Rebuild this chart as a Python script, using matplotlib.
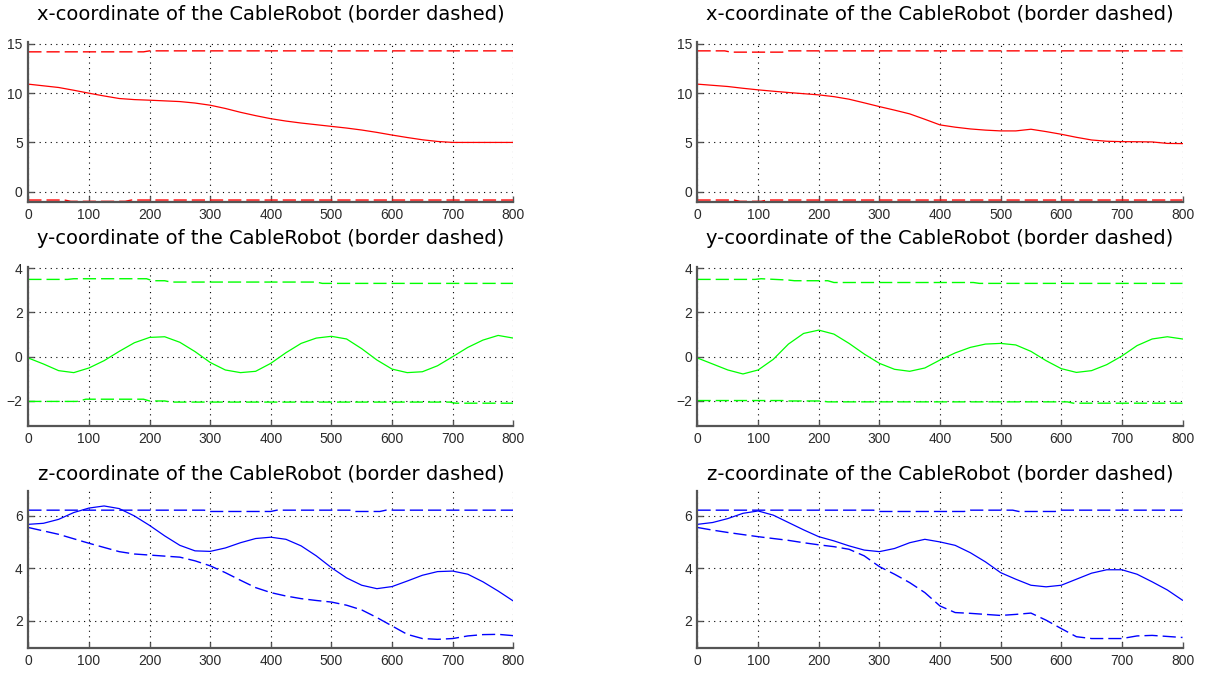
import numpy as np
import matplotlib
matplotlib.use("Agg")
import matplotlib.pyplot as plt

# sample positions for the trajectories
t = [0, 25, 50, 75, 100, 125, 150, 175, 200, 225, 250, 275, 300, 325, 350, 375, 400,
     425, 450, 475, 500, 525, 550, 575, 600, 625, 650, 675, 700, 725, 750, 775, 800]

# ---- left column ----
x_left = [10.92, 10.75, 10.58, 10.3, 10.0, 9.72, 9.46, 9.35, 9.29, 9.22, 9.15, 9.0, 8.78,
          8.45, 8.06, 7.72, 7.41, 7.17, 6.97, 6.8, 6.63, 6.46, 6.26, 6.02, 5.75, 5.5, 5.27,
          5.1, 5.0, 5.0, 5.0, 5.0, 5.0]
x_left_up_t = [0, 190, 200, 800]
x_left_up = [14.2, 14.2, 14.3, 14.3]
x_left_lo_t = [0, 60, 70, 160, 170, 800]
x_left_lo = [-0.85, -0.85, -0.98, -0.98, -0.85, -0.85]

y_left = [-0.06, -0.33, -0.63, -0.72, -0.51, -0.18, 0.24, 0.63, 0.87, 0.9, 0.65, 0.23, -0.26,
          -0.6, -0.72, -0.66, -0.3, 0.18, 0.6, 0.84, 0.92, 0.8, 0.36, -0.15, -0.56, -0.72,
          -0.68, -0.41, 0.0, 0.42, 0.75, 0.96, 0.84]
y_left_up_t = [0, 65, 75, 195, 205, 225, 235, 475, 485, 800]
y_left_up = [3.49, 3.49, 3.52, 3.52, 3.43, 3.43, 3.37, 3.37, 3.31, 3.31]
y_left_lo_t = [0, 80, 95, 190, 200, 225, 235, 695, 705, 800]
y_left_lo = [-2.02, -2.02, -1.92, -1.92, -2.0, -2.0, -2.05, -2.05, -2.1, -2.1]

z_left = [5.68, 5.72, 5.87, 6.13, 6.3, 6.38, 6.28, 6.0, 5.64, 5.24, 4.88, 4.67, 4.65, 4.78,
          4.98, 5.14, 5.19, 5.11, 4.86, 4.48, 4.03, 3.64, 3.36, 3.23, 3.31, 3.52, 3.74, 3.88,
          3.9, 3.78, 3.49, 3.14, 2.76]
z_left_lo = [5.56, 5.43, 5.3, 5.13, 4.96, 4.8, 4.64, 4.55, 4.51, 4.47, 4.43, 4.29, 4.1, 3.84,
             3.55, 3.27, 3.08, 2.95, 2.85, 2.78, 2.72, 2.6, 2.42, 2.13, 1.81, 1.49, 1.33,
             1.3, 1.33, 1.43, 1.48, 1.49, 1.44]
z_left_up_t = [0, 290, 300, 400, 410, 530, 540, 580, 590, 800]
z_left_up = [6.22, 6.22, 6.17, 6.17, 6.22, 6.22, 6.17, 6.17, 6.22, 6.22]

# ---- right column ----
x_right = [10.92, 10.8, 10.68, 10.5, 10.34, 10.2, 10.07, 9.95, 9.83, 9.65, 9.39, 9.02, 8.64,
           8.28, 7.9, 7.35, 6.78, 6.55, 6.37, 6.25, 6.17, 6.17, 6.34, 6.1, 5.83, 5.52, 5.25,
           5.12, 5.08, 5.07, 5.05, 4.9, 4.88]
x_right_up_t = [0, 45, 55, 140, 150, 800]
x_right_up = [14.3, 14.3, 14.17, 14.17, 14.3, 14.3]
x_right_lo_t = [0, 60, 70, 105, 115, 800]
x_right_lo = [-0.85, -0.85, -0.98, -0.98, -0.85, -0.85]

y_right = [-0.06, -0.33, -0.6, -0.78, -0.6, -0.12, 0.57, 1.05, 1.2, 1.02, 0.6, 0.12, -0.3,
           -0.57, -0.66, -0.51, -0.15, 0.17, 0.42, 0.57, 0.6, 0.53, 0.24, -0.18, -0.54,
           -0.71, -0.63, -0.36, 0.03, 0.5, 0.8, 0.9, 0.8]
y_right_up_t = [0, 95, 105, 150, 160, 215, 225, 455, 465, 800]
y_right_up = [3.49, 3.49, 3.52, 3.46, 3.43, 3.43, 3.35, 3.35, 3.31, 3.31]
y_right_lo_t = [0, 140, 150, 205, 215, 610, 620, 800]
y_right_lo = [-1.98, -1.98, -2.0, -2.0, -2.04, -2.04, -2.1, -2.1]

z_right = [5.68, 5.75, 5.9, 6.1, 6.19, 6.03, 5.75, 5.47, 5.21, 5.05, 4.86, 4.7, 4.64, 4.76,
           4.98, 5.11, 5.01, 4.88, 4.6, 4.25, 3.84, 3.59, 3.36, 3.3, 3.36, 3.59, 3.82, 3.95,
           3.95, 3.78, 3.49, 3.18, 2.79]
z_right_lo = [5.56, 5.46, 5.37, 5.29, 5.21, 5.14, 5.07, 4.98, 4.9, 4.83, 4.73, 4.48, 4.07,
              3.78, 3.46, 3.08, 2.57, 2.32, 2.29, 2.25, 2.21, 2.25, 2.3, 2.03, 1.71, 1.4,
              1.33, 1.33, 1.33, 1.43, 1.45, 1.41, 1.37]
z_right_up_t = [0, 290, 300, 440, 450, 520, 530, 590, 600, 800]
z_right_up = [6.22, 6.22, 6.17, 6.17, 6.22, 6.22, 6.17, 6.17, 6.22, 6.22]

titles = ["x-coordinate of the CableRobot (border dashed)",
          "y-coordinate of the CableRobot (border dashed)",
          "z-coordinate of the CableRobot (border dashed)"]
ylims = [(-1.05, 15.2), (-3.13, 4.05), (0.97, 6.95)]
yticks = [[0, 5, 10, 15], [-2, 0, 2, 4], [2, 4, 6]]
colors = ["#ff0000", "#00ff00", "#0000ff"]

fig = plt.figure(figsize=(12.07, 6.73), dpi=100)
W, H = 1207.0, 673.0
col_left = [28.3, 697.5]
col_width = 485.0
row_top = [42, 267, 491]
row_bot = [202, 426, 648]
title_y = [13.5, 238.5, 473.5]

panels = [
    # (column, row, solid, upper border, lower border)
    (0, 0, (t, x_left), (x_left_up_t, x_left_up), (x_left_lo_t, x_left_lo)),
    (0, 1, (t, y_left), (y_left_up_t, y_left_up), (y_left_lo_t, y_left_lo)),
    (0, 2, (t, z_left), (z_left_up_t, z_left_up), (t, z_left_lo)),
    (1, 0, (t, x_right), (x_right_up_t, x_right_up), (x_right_lo_t, x_right_lo)),
    (1, 1, (t, y_right), (y_right_up_t, y_right_up), (y_right_lo_t, y_right_lo)),
    (1, 2, (t, z_right), (z_right_up_t, z_right_up), (t, z_right_lo)),
]

dash = (0, (9.5, 3.6))

for col, row, solid, up, lo in panels:
    left = col_left[col] / W
    bottom = 1 - row_bot[row] / H
    height = (row_bot[row] - row_top[row]) / H
    ax = fig.add_axes([left, bottom, col_width / W, height])
    c = colors[row]
    ax.plot(up[0], up[1], color=c, lw=1.0, linestyle=dash)
    ax.plot(lo[0], lo[1], color=c, lw=1.0, linestyle=dash)
    ax.plot(solid[0], solid[1], color=c, lw=0.9)

    ax.set_xlim(0, 800)
    ax.set_ylim(*ylims[row])
    ax.set_xticks(range(0, 801, 100))
    ax.set_yticks(yticks[row])
    ax.grid(True, color="black", linestyle=(0, (1, 4)), linewidth=0.8)
    ax.set_axisbelow(True)

    for side in ["top", "right"]:
        ax.spines[side].set_visible(False)
    for side in ["left", "bottom"]:
        ax.spines[side].set_color("#555555")
        ax.spines[side].set_linewidth(1.6)
    ax.tick_params(direction="in", length=4, width=1, color="#555555",
                   labelsize=10, labelcolor="#2a2a2a", pad=4)
    for lab in ax.get_xticklabels() + ax.get_yticklabels():
        lab.set_family("Liberation Sans")

    xc = (col_left[col] + col_width / 2) / W
    fig.text(xc, 1 - title_y[row] / H, titles[row], ha="center", va="center",
             fontsize=14, color="black", family="DejaVu Sans")

fig.savefig("out.png", dpi=100, facecolor="white")
